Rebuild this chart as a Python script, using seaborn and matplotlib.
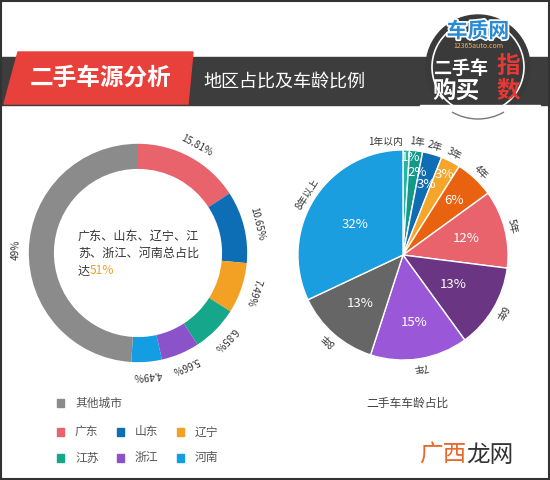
import numpy as np
import matplotlib
matplotlib.use('Agg')
import matplotlib.pyplot as plt
import matplotlib.patches as mpatches
import matplotlib.patheffects as pe
import seaborn as sns

sns.set_theme(style='white')
plt.rcParams['font.family'] = ['Noto Sans CJK SC', 'DejaVu Sans']

# region share of used car supply (%)
regions = ['广东', '山东', '辽宁', '江苏', '浙江', '河南', '其他城市']
region_share = [15.81, 10.65, 7.49, 6.85, 5.66, 4.49, 49]
region_colors = ['#e8636b', '#0d6db5', '#f2a125', '#16a68a', '#8c52c9', '#149de2', '#8b8b8b']

# car age share (%)
ages = ['1年以内', '1年', '2年', '3年', '4年', '5年', '6年', '7年', '8年', '8年以上']
age_share = [1, 2, 3, 3, 6, 12, 13, 15, 13, 32]
age_colors = ['#22b8a0', '#13998a', '#0f6db6', '#f4a52a', '#e8620f', '#e8636b',
              '#6a3583', '#9a58d8', '#666666', '#1a9ee0']

center_lines = ['广东、山东、辽宁、江', '苏、浙江、河南总占比', '达']
center_total = '51%'

W, H = 550, 480
fig = plt.figure(figsize=(5.5, 4.8), dpi=100)
fig.patch.set_facecolor('white')

# background / annotation layer in pixel coords
bg = fig.add_axes([0, 0, 1, 1])
bg.set_xlim(0, W)
bg.set_ylim(H, 0)
bg.axis('off')

# header band
bg.add_patch(mpatches.Rectangle((0, 57), W, 48, color='#3d3d3d', zorder=1))
bg.add_patch(mpatches.Polygon([(18, 52), (193, 52), (188, 104), (4, 104)],
                              closed=True, color='#e8403b', zorder=2))
bg.text(101, 78, '二手车源分析', color='white', fontsize=17, fontweight='bold',
        ha='center', va='center', zorder=3)
bg.text(203, 82, '地区占比及车龄比例', color='white', fontsize=13,
        ha='left', va='center', zorder=3)

# logo
bg.add_patch(mpatches.Circle((478, 67), 52, color='#3a3a3a', zorder=4))
bg.add_patch(mpatches.Circle((478, 67), 46, fill=False, ec='white', lw=1.2, zorder=5))
bg.add_patch(mpatches.Rectangle((420, 105), 120, 20, color='white', zorder=6))
bg.add_patch(mpatches.Arc((478, 67), 104, 104, theta1=60, theta2=120, ec='#777777',
                          lw=1, zorder=7))
bg.text(478, 31, '车质网', color='#2a8ad4', fontsize=15, fontweight='bold', ha='center',
        va='center', zorder=7, path_effects=[pe.withStroke(linewidth=2.5, foreground='white')])
bg.text(478, 46, '12365auto.com', color='#f0b060', fontsize=5, ha='center', va='center', zorder=7)
bg.text(461, 68, '二手车', color='white', fontsize=13, fontweight='bold', ha='center',
        va='center', zorder=7)
bg.text(456, 91, '购买', color='white', fontsize=17, fontweight='bold', ha='center',
        va='center', zorder=7)
bg.text(508, 66, '指', color='#e53935', fontsize=17, fontweight='bold', ha='center',
        va='center', zorder=7)
bg.text(508, 91, '数', color='#e53935', fontsize=17, fontweight='bold', ha='center',
        va='center', zorder=7)

# outer frame
bg.add_patch(mpatches.Rectangle((0.8, 0.8), W - 1.6, H - 1.6, fill=False, ec='#333333',
                                lw=1.5, zorder=8))

# donut centre text
txt_color = '#333333'
for i, line in enumerate(center_lines):
    t = bg.text(78, 236 + i * 17.5, line, fontsize=8.7, color=txt_color, ha='left', va='center')
bg.annotate(center_total, xy=(1, 0.5), xycoords=t, va='center', ha='left',
            fontsize=8.7, color='#f2a125')

# legend
sq_w, sq_h = 7, 8
leg_pos = [(57, 403)] + [(57 + 60 * (k % 3), 432 + 26 * (k // 3)) for k in range(6)]
leg_order = [6, 0, 1, 2, 3, 4, 5]
for (lx, ly), idx in zip(leg_pos, leg_order):
    bg.add_patch(mpatches.Rectangle((lx, ly - sq_h / 2), sq_w, sq_h, color=region_colors[idx]))
    bg.text(lx + 18, ly, regions[idx], fontsize=8.5, color='#555555', ha='left', va='center')

bg.text(407, 403, '二手车车龄占比', fontsize=8.5, color='#444444', ha='center', va='center')
wm = bg.text(419, 455, '广西', fontsize=17, color='#e8672a', ha='left', va='center')
bg.annotate('龙网', xy=(1, 0.5), xycoords=wm, fontsize=17, color='#333333',
            ha='left', va='center')


def make_axes(cx, cy, r, lim=1.3):
    side = 2 * r * lim
    ax = fig.add_axes([(cx - side / 2) / W, (H - cy - side / 2) / H, side / W, side / H])
    ax.set_xlim(-lim, lim)
    ax.set_ylim(-lim, lim)
    ax.set_aspect('equal')
    ax.axis('off')
    ax.patch.set_alpha(0)
    return ax


def tangent_label(ax, theta, r, s, ha='center', **kw):
    a = np.deg2rad(theta)
    ax.text(r * np.cos(a), r * np.sin(a), s, rotation=theta - 90, rotation_mode='anchor',
            ha=ha, va='center', **kw)


# donut of regions
ax1 = make_axes(138, 253, 105)
wedges, _ = ax1.pie(region_share, colors=region_colors, startangle=90, counterclock=False,
                    wedgeprops=dict(width=0.23, edgecolor='none'))
for w, v in zip(wedges, region_share):
    theta = (w.theta1 + w.theta2) / 2
    tangent_label(ax1, theta, 1.12, f'{v:g}%', fontsize=7.2, color='#333333')

# pie of car age
ax2 = make_axes(403, 255, 101)
wedges2, _ = ax2.pie(age_share, colors=age_colors, startangle=90, counterclock=False,
                     wedgeprops=dict(edgecolor='white', linewidth=1))
pct_r = [0.93, 0.8, 0.71, 0.86, 0.71, 0.62, 0.55, 0.65, 0.62, 0.54]
pct_shift = [2.5, 2.5, 2, 0, 0, 0, 0, 0, 0, 0]
lab_ha = ['right'] + ['center'] * 9
for w, v, name, pr, sh, h in zip(wedges2, age_share, ages, pct_r, pct_shift, lab_ha):
    theta = (w.theta1 + w.theta2) / 2
    a = np.deg2rad(theta - sh)
    ax2.text(pr * np.cos(a), pr * np.sin(a), f'{v}%', color='white', fontsize=9.5,
             ha='center', va='center')
    tangent_label(ax2, theta if h == 'center' else 90, 1.08, name, ha=h,
                  fontsize=7, color='#333333')

fig.savefig('out.png', dpi=100, facecolor='white')
